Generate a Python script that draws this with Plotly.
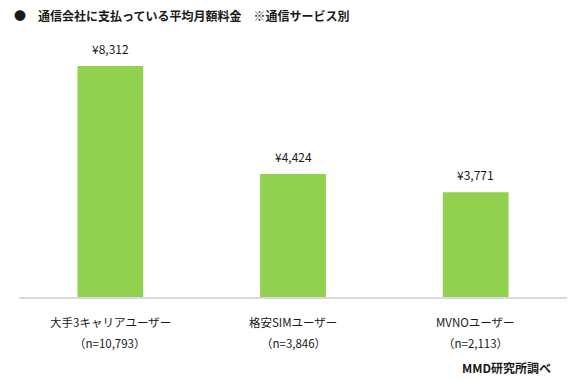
import plotly.graph_objects as go

categories = ["大手3キャリアユーザー", "格安SIMユーザー", "MVNOユーザー"]
sample_sizes = ["（n=10,793）", "（n=3,846）", "（n=2,113）"]
values = [8312, 4424, 3771]
value_labels = ["¥8,312", "¥4,424", "¥3,771"]

FONT = "Noto Sans CJK JP, Noto Sans, sans-serif"
TXT = "#1a1a1a"

# page body has an 8px margin; work in window pixels and subtract it
OFF = 8
W, H = 582 - OFF, 381 - OFF
ml, mr, mt, mb = 19 - OFF, 15, 47 - OFF, 84

fig = go.Figure()
fig.add_trace(go.Bar(
    x=categories, y=values, width=0.36,
    marker=dict(color="#92D050", line=dict(width=0)),
    hoverinfo="skip",
))

annotations = []
for c, v, lab in zip(categories, values, value_labels):
    annotations.append(dict(x=c, y=v, xref="x", yref="y", text=lab, showarrow=False,
                            yanchor="bottom", yshift=7, font=dict(size=12, color=TXT, family=FONT)))
for c, n in zip(categories, sample_sizes):
    annotations.append(dict(x=c, y=0, xref="x", yref="y", text=c, showarrow=False,
                            yanchor="middle", yshift=-25, font=dict(size=11.5, color=TXT, family=FONT)))
    annotations.append(dict(x=c, y=0, xref="x", yref="y", text=n, showarrow=False,
                            yanchor="middle", yshift=-46, font=dict(size=11.5, color=TXT, family=FONT)))

paper_notes = [
    dict(x=12, y=16, text="<b>●　通信会社に支払っている平均月額料金　※通信サービス別</b>", xanchor="left"),
    dict(x=553, y=367, text="<b>MMD研究所調べ</b>", xanchor="right"),
]
pw, ph = W - ml - mr, H - mt - mb
for p in paper_notes:
    annotations.append(dict(
        x=(p["x"] - OFF - ml) / pw, y=1 - (p["y"] - OFF - mt) / ph,
        xref="paper", yref="paper", showarrow=False, text=p["text"],
        xanchor=p["xanchor"], yanchor="middle",
        font=dict(size=12, color=TXT, family=FONT)))

fig.update_layout(
    width=W, height=H,
    margin=dict(l=ml, r=mr, t=mt, b=mb),
    paper_bgcolor="white", plot_bgcolor="white",
    showlegend=False,
    xaxis=dict(showticklabels=False, showline=True, linecolor="#d9d9d9", linewidth=1.5,
               ticks="", showgrid=False, range=[-0.5, 2.5], fixedrange=True),
    yaxis=dict(visible=False, range=[0, 9000], showgrid=False, zeroline=False, fixedrange=True),
    annotations=annotations,
    font=dict(family=FONT, color=TXT),
)

fig.write_html("out.html", config={"displayModeBar": False})
